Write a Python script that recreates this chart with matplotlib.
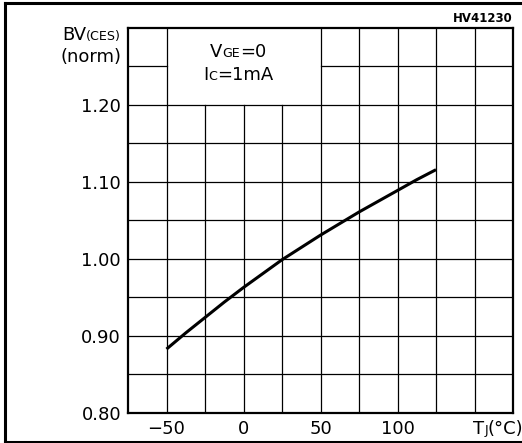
import numpy as np
import matplotlib
matplotlib.use("Agg")
import matplotlib.pyplot as plt
from matplotlib.lines import Line2D
from matplotlib.offsetbox import TextArea, HPacker, AnchoredOffsetbox

# normalized breakdown voltage vs junction temperature
tj = [-50, -37.5, -25, -12.5, 0, 12.5, 25, 37.5, 50, 62.5, 75, 87.5, 100, 112.5, 125]
bv_norm = [0.883, 0.904, 0.924, 0.944, 0.963, 0.981, 0.999, 1.015, 1.031,
           1.046, 1.061, 1.075, 1.089, 1.103, 1.116]

x_ticks = [-50, 0, 50, 100]
x_ticklabels = ["\u221250", "0", "50", "100"]
y_ticks = [0.80, 0.90, 1.00, 1.10, 1.20]
y_ticklabels = ["0.80", "0.90", "1.00", "1.10", "1.20"]

W, H = 522, 443
fig = plt.figure(figsize=(W / 100, H / 100), dpi=100)
ax = fig.add_axes([128 / W, 1 - 413 / H, 385 / W, 385 / H])

xmin, xmax = -75, 175
ymin, ymax = 0.80, 1.30
ax.set_xlim(xmin, xmax)
ax.set_ylim(ymin, ymax)

# grid, drawn by hand so the condition box can stay clear
gx = np.arange(xmin + 25, xmax, 25)
gy = np.arange(ymin + 0.05, ymax - 0.001, 0.05)
box_x0, box_x1, box_y0 = -50, 50, 1.20
for x in gx:
    top = box_y0 if box_x0 < x < box_x1 else ymax
    ax.plot([x, x], [ymin, top], color="black", lw=0.9, zorder=1)
for y in gy:
    if y > box_y0 + 0.001:
        ax.plot([xmin, box_x0], [y, y], color="black", lw=0.9, zorder=1)
        ax.plot([box_x1, xmax], [y, y], color="black", lw=0.9, zorder=1)
    else:
        ax.plot([xmin, xmax], [y, y], color="black", lw=0.9, zorder=1)

ax.plot(tj, bv_norm, color="black", lw=2.2, solid_capstyle="butt", zorder=3)

for s in ax.spines.values():
    s.set_linewidth(1.6)
ax.tick_params(length=0, labelsize=13, pad=5)
ax.set_xticks(x_ticks)
ax.set_xticklabels(x_ticklabels)
ax.set_yticks(y_ticks)
ax.set_yticklabels(y_ticklabels)


def mixed(parts, size):
    areas = [TextArea(t, textprops=dict(fontsize=size * (0.7 if small else 1.0),
                                        color="black"))
             for t, small in parts]
    return HPacker(children=areas, align="baseline", pad=0, sep=0)


def place(box, x, y, loc):
    ab = AnchoredOffsetbox(loc=loc, child=box, pad=0, borderpad=0, frameon=False,
                           bbox_to_anchor=(x / W, 1 - y / H),
                           bbox_transform=fig.transFigure)
    fig.add_artist(ab)


# test conditions
place(mixed([("V", False), ("GE", True), ("=0", False)], 13), 238, 61, "lower center")
place(mixed([("I", False), ("C", True), ("=1mA", False)], 13), 238, 84, "lower center")

# axis titles
place(mixed([("BV", False), ("(CES)", True)], 13), 121, 44, "lower right")
fig.text(122 / W, 1 - 62 / H, "(norm)", fontsize=13, ha="right", va="baseline")
place(mixed([("T", False), ("J", True), ("(\u00b0C)", False)], 13), 473, 438, "lower left")

fig.text(513 / W, 1 - 22 / H, "HV41230", fontsize=8.5, ha="right", va="baseline",
         fontweight="bold")

# outer frame
for xs, ys in [((5, W), (3, 3)), ((5, 5), (3, 442)), ((5, W), (442, 442))]:
    fig.add_artist(Line2D([x / W for x in xs], [1 - y / H for y in ys],
                          color="black", lw=2.2, transform=fig.transFigure))

fig.savefig("out.png", dpi=100)
